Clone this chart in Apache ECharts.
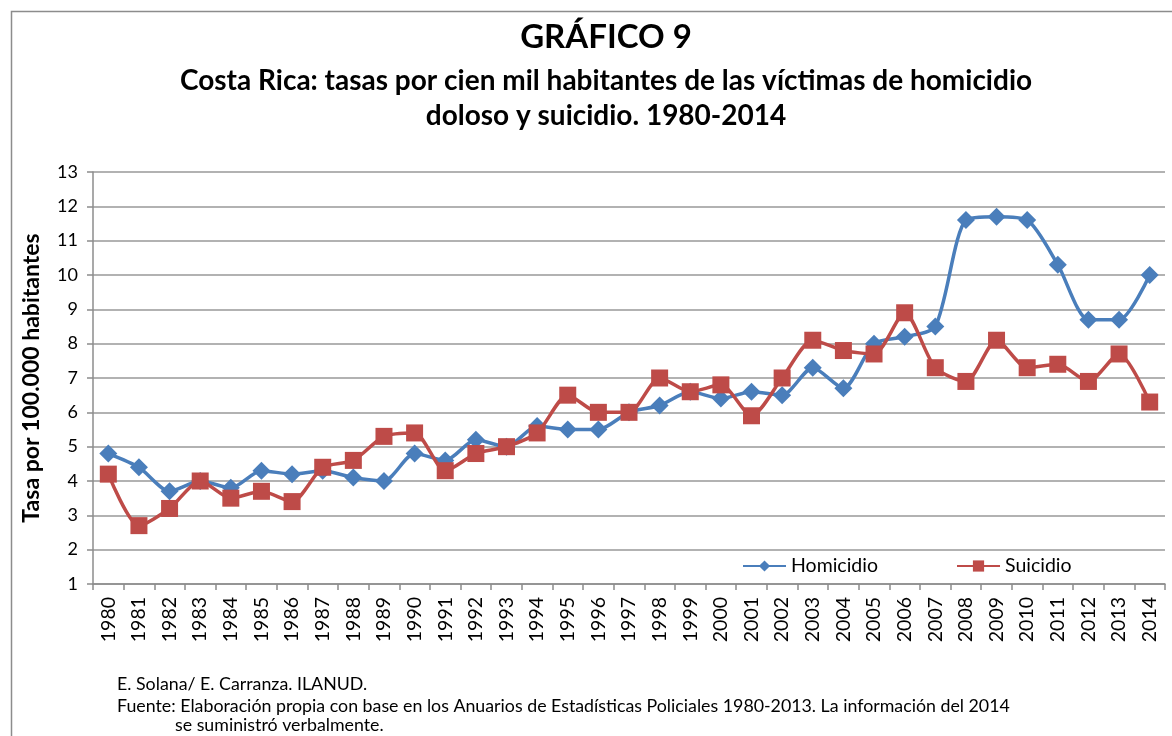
<!DOCTYPE html>
<html>
<head>
<meta charset="utf-8">
<script src="https://cdn.jsdelivr.net/npm/echarts@6/dist/echarts.min.js"></script>
<style>
html,body{margin:0;padding:0;background:#fff;}
#chart{width:1172px;height:736px;}
</style>
</head>
<body>
<div id="chart"></div>
<script>
var years = ['1980','1981','1982','1983','1984','1985','1986','1987','1988','1989','1990','1991','1992','1993','1994','1995','1996','1997','1998','1999','2000','2001','2002','2003','2004','2005','2006','2007','2008','2009','2010','2011','2012','2013','2014'];
var homicidio = [4.8,4.4,3.7,4.0,3.8,4.3,4.2,4.3,4.1,4.0,4.8,4.6,5.2,5.0,5.6,5.5,5.5,6.0,6.2,6.6,6.4,6.6,6.5,7.3,6.7,8.0,8.2,8.5,11.6,11.7,11.6,10.3,8.7,8.7,10.0];
var suicidio = [4.2,2.7,3.2,4.0,3.5,3.7,3.4,4.4,4.6,5.3,5.4,4.3,4.8,5.0,5.4,6.5,6.0,6.0,7.0,6.6,6.8,5.9,7.0,8.1,7.8,7.7,8.9,7.3,6.9,8.1,7.3,7.4,6.9,7.7,6.3];
var seriesNames = ['Homicidio','Suicidio'];
var titleText = 'GRÁFICO 9';
var subtitleLines = ['Costa Rica: tasas por cien mil habitantes de las víctimas de homicidio','doloso y suicidio. 1980-2014'];
var yAxisName = 'Tasa por 100.000 habitantes';
var notes = ['E. Solana/ E. Carranza. ILANUD.','Fuente: Elaboración propia con base en los Anuarios de Estadísticas Policiales 1980-2013. La información del 2014','se suministró verbalmente.'];

var FONT = 'Lato, "Open Sans", sans-serif';
var chart = echarts.init(document.getElementById('chart'));
chart.setOption({
  backgroundColor:'#fff',
  animation:false,
  title:[
    {text:titleText,left:606,textAlign:'center',top:21,padding:0,textStyle:{fontFamily:FONT,fontSize:33,fontWeight:'bold',color:'#000'}},
    {text:subtitleLines[0],left:606,textAlign:'center',top:67,padding:0,textStyle:{fontFamily:FONT,fontSize:28,fontWeight:'bold',color:'#000'}},
    {text:subtitleLines[1],left:606,textAlign:'center',top:102,padding:0,textStyle:{fontFamily:FONT,fontSize:28,fontWeight:'bold',color:'#000'}},
    {text:notes[0],left:117,top:675,padding:0,textStyle:{fontFamily:FONT,fontSize:17.8,fontWeight:'normal',color:'#000'}},
    {text:notes[1],left:117,top:697,padding:0,textStyle:{fontFamily:FONT,fontSize:17.8,fontWeight:'normal',color:'#000'}},
    {text:notes[2],left:175,top:716,padding:0,textStyle:{fontFamily:FONT,fontSize:17.8,fontWeight:'normal',color:'#000'}}
  ],
  graphic:[
    {type:'rect',left:9,top:9,shape:{width:1200,height:800},style:{fill:'none',stroke:'#8c8c8c',lineWidth:1.5},z:-1}
  ],
  legend:{
    data:seriesNames,
    left:742,top:556,padding:0,itemGap:78,itemWidth:43,itemHeight:14,
    textStyle:{fontFamily:FONT,fontSize:19.5,color:'#000',padding:[0,0,0,0]}
  },
  grid:{left:93,right:7,top:172,bottom:152,containLabel:false},
  xAxis:{
    type:'category',data:years,boundaryGap:true,
    axisLine:{lineStyle:{color:'#8c8c8c',width:1.5}},
    axisTick:{show:true,length:6,lineStyle:{color:'#8c8c8c',width:1.5}},
    axisLabel:{rotate:90,margin:13,color:'#000',fontFamily:FONT,fontSize:19.5,interval:0}
  },
  yAxis:{
    type:'value',min:1,max:13,interval:1,
    name:yAxisName,nameLocation:'middle',nameGap:50,
    nameTextStyle:{fontFamily:FONT,fontSize:23,fontWeight:'bold',color:'#000'},
    axisLine:{show:true,lineStyle:{color:'#8c8c8c',width:1.5}},
    axisTick:{show:true,length:6,lineStyle:{color:'#8c8c8c',width:1.5}},
    axisLabel:{margin:15,color:'#000',fontFamily:FONT,fontSize:18},
    splitLine:{lineStyle:{color:'#999',width:1.5}}
  },
  series:[
    {name:seriesNames[0],type:'line',data:homicidio,smooth:0.25,symbol:'diamond',symbolSize:18,
     itemStyle:{color:'#4A7EBB'},lineStyle:{color:'#4A7EBB',width:3.5},z:2},
    {name:seriesNames[1],type:'line',data:suicidio,smooth:0.25,symbol:'rect',symbolSize:17,
     itemStyle:{color:'#BE4B48'},lineStyle:{color:'#BE4B48',width:3.5},z:3}
  ]
});
</script>
</body>
</html>
